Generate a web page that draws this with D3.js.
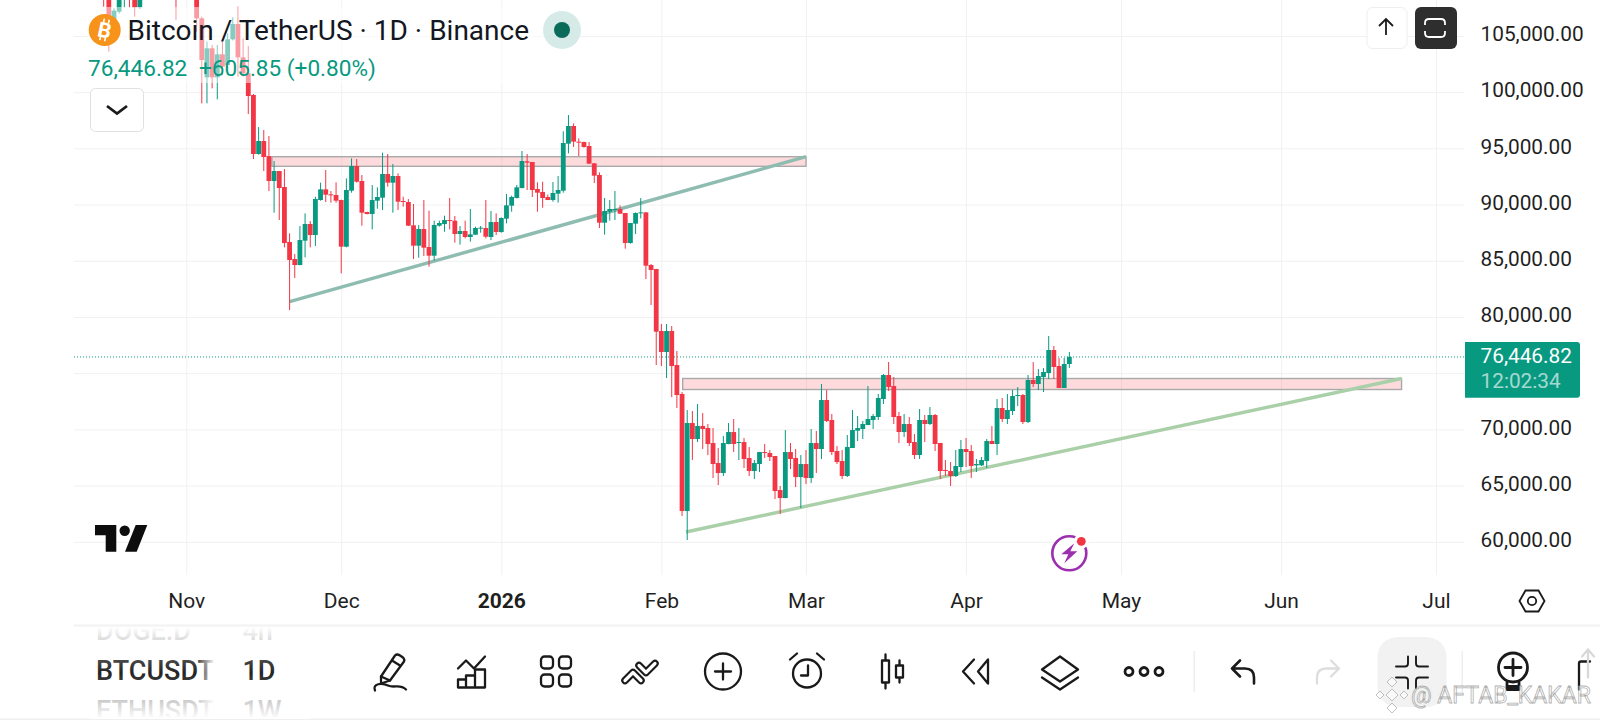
<!DOCTYPE html>
<html>
<head>
<meta charset="utf-8">
<script src="https://cdn.jsdelivr.net/npm/d3@7"></script>
<style>
  html, body { margin: 0; padding: 0; background: #fff; overflow: hidden; }
  text { font-family: Roboto, "Noto Sans", sans-serif; }
</style>
</head>
<body>
<div id="my_chart"></div>
<script>
// BTC/USDT daily candles. One line per month, starting 16 Oct 2025.
const firstDay = "2025-10-16";
const opens = [
  111200,108600,106423,107165,108700,110600,108400,107550,110000,111000,111600,114500,114100,112900,110000,108400,
  109600,110100,110500,106572,101322,103902,101322,103368,102419,104703,106067,103102,101678,99750,94500,95657,94322,92098,92988,91564,86670,85157,84624,86789,88272,87293,90407,91356,90912,90853,
  90408,86256,91238,93433,92099,89340,89162,90349,90616,92721,91950,92544,90319,90230,88154,86345,87828,86226,85455,88124,88272,88628,88569,87383,87650,87116,87323,87887,87917,87116,88450,
  87561,88747,89904,90586,91476,93849,93789,91387,91120,90675,90408,90972,91238,95421,96993,95599,95570,95213,93671,92633,88391,89370,89548,89607,89251,86582,88302,89251,89310,84625,84269,
  78753,76884,78753,75727,73147,62736,70567,69143,70300,70122,68787,67007,66118,68698,69766,68817,68876,67452,66295,66918,67986,67897,67630,64605,63893,67986,67452,65761,
  66918,65673,68787,68253,72613,70833,68075,67185,65852,68344,69886,70034,70390,70835,71102,72704,74839,73860,71191,69767,70479,68877,67720,70835,70479,71280,68789,66386,66297,65852,66653,
  68255,68077,66801,66801,67187,68966,68700,71903,70924,71636,72971,73060,70657,74394,74038,74661,75017,77064,75640,73682,75818
];
const highs = [
  111900,109000,107460,109400,111700,113000,109000,111000,111900,111800,114900,116400,116000,113600,111500,111100,
  110500,111200,110700,106720,104495,104199,104199,104495,105237,106661,107610,104792,104110,99839,96903,96636,96102,93877,93000,93166,87441,85602,88094,89221,88539,90704,91950,93077,91209,91980,
  90440,92336,94116,94056,92633,89370,91743,91535,94620,94501,93611,92781,90705,90497,90052,88184,90408,89459,88569,88569,89014,90586,88984,88095,88569,89607,88035,88095,90408,89429,89222,
  88866,90942,90794,91743,94768,94501,93800,91980,92039,90883,92010,92544,96518,97971,97230,95895,95600,95569,93700,92870,90586,90408,91209,89933,89260,88370,89310,90586,89320,84714,84280,
  79376,79376,79198,76973,73325,71723,71634,72257,71456,70478,70122,68342,69410,70567,70923,70122,69232,68431,67274,68000,68698,68164,67640,64961,69944,68787,68253,67719,
  68164,70033,69855,74037,73503,71367,68520,68164,69500,71725,71191,70746,73860,71369,73148,74928,75996,74661,71547,71369,71102,69589,71814,71280,71992,71369,68800,67276,67098,68166,69055,
  69233,68611,67365,67543,69145,70301,72704,72793,73148,73505,73771,73148,74839,75996,75373,75462,78309,77420,76352,76352,76886
];
const lows = [
  107610,103606,106186,107000,107550,107550,106720,107400,109700,110700,111200,113800,111900,109300,106423,108300,
  109400,109800,105385,99008,99008,100343,99364,101530,101530,104600,101381,101400,98059,94055,94450,92988,91208,89280,88627,86196,80619,83467,84600,85306,86196,86314,90348,90229,90171,90171,
  83883,86200,91061,91950,88124,89130,87798,89637,89518,91594,89281,89518,89815,88095,85158,85277,85425,84476,85010,88035,87590,87798,86612,86434,86997,86700,87294,87501,86997,86849,87294,
  87500,88332,89370,90556,91440,91298,90675,89370,89726,90400,90260,90171,91061,94560,95124,94323,95065,93620,91921,87917,87323,88569,88628,89160,86078,86523,87383,88777,83380,81066,75727,
  75638,74570,72880,71901,62291,60156,67274,68876,68253,67719,65673,65050,65851,68680,67986,67274,66562,65851,65584,66206,67452,67185,63804,62469,63880,66473,64872,63003,
  65139,65228,66118,67363,70655,67719,66918,65584,65763,68340,68966,69145,70380,70034,70835,72259,73415,70479,68789,69322,68522,67365,67365,68877,70390,68077,65585,65852,64963,65763,66208,
  66653,65674,66208,66742,66564,68690,67720,70657,70479,71280,72081,70479,70568,73771,73505,73326,74483,74483,73680,73680,75462
];
const closes = [
  108400,106870,107254,108600,110500,108400,107550,110000,111000,111600,114500,114100,112900,110000,108300,109600,
  110100,110500,106572,102864,103902,101322,103368,102271,104703,106067,103102,101678,99661,94500,95657,94233,92098,92988,91475,86581,85068,84624,86848,88272,87293,90496,91356,90882,90853,90349,
  86256,91298,93433,92039,89281,89162,90408,90675,92721,91950,92544,90260,90230,88124,86345,87828,86167,85455,88184,88361,88628,88569,87383,87650,87116,87353,87917,87947,87145,88450,87561,
  88806,89933,90675,91535,93878,93730,91298,91061,90586,90408,91031,91298,95480,96993,95599,95539,95124,93641,92573,88391,89429,89607,89607,89192,86582,88361,89251,89310,84565,84180,78693,
  76884,78753,75638,73058,62736,70567,69143,70300,70033,68698,66918,66118,68787,69766,68698,68876,67363,66295,67007,67986,67897,67541,64516,63893,67986,67363,65761,66918,
  65673,68787,68253,72613,70744,67986,67096,65851,68433,69945,70123,70479,70924,71191,72793,74839,73771,71102,69767,70479,68789,67720,70835,70479,71280,68700,66297,66297,65852,66742,68255,
  67988,66742,66920,67276,68966,68700,71903,70924,71725,72971,73060,70657,74394,74038,74750,75106,77064,75551,73682,75818,76446.82
];

const priceTicks = [60000, 65000, 70000, 75000, 80000, 85000, 90000, 95000, 100000, 105000];
// 75,000 sits behind the last price tag, so it gets a grid line but no label
const priceLabelTicks = [60000, 65000, 70000, 80000, 85000, 90000, 95000, 100000, 105000];
const monthTicks = ["2025-11-01", "2025-12-01", "2026-01-01", "2026-02-01", "2026-03-01", "2026-04-01", "2026-05-01", "2026-06-01", "2026-07-01"];
const monthLabels = ["Nov", "Dec", "2026", "Feb", "Mar", "Apr", "May", "Jun", "Jul"];

// drawings the trader put on the chart
const zoneStarts = ["2025-11-17T14:00Z", "2026-02-05T03:00Z"];
const zoneEnds = ["2026-03-01T00:00Z", "2026-06-24T08:00Z"];
const zoneTops = [94262, 74528];
const zoneBottoms = [93407, 73549];
const trendStarts = ["2025-11-21T00:00Z", "2026-02-05T18:00Z"];
const trendEnds = ["2026-03-01T00:00Z", "2026-06-24T08:00Z"];
const trendFrom = [81361, 60871];
const trendTo = [94262, 74528];
const trendColors = ["#8fbcb1", "#a9d0a8"];

const lastPrice = 76446.82;
const red = "#f23645", green = "#089981";

const width = 1600, height = 720;
const plot = {left: 74, right: 1464, top: 0, bottom: 575};

const xScale = d3.scaleUtc()
    .domain([new Date("2025-11-01"), new Date("2026-07-01")])
    .range([186.3, 1436]);
const yScale = d3.scaleLinear()
    .domain([60000, 105000])
    .range([541.8, 36]);

const svg = d3.select("#my_chart")
    .append("svg")
    .attr("width", width)
    .attr("height", height)
    .style("display", "block");

const defs = svg.append("defs");
defs.append("clipPath").attr("id", "plot-clip")
    .append("rect")
    .attr("x", plot.left).attr("y", plot.top)
    .attr("width", plot.right - plot.left)
    .attr("height", plot.bottom - plot.top);
const fade = defs.append("linearGradient").attr("id", "list-fade");
fade.append("stop").attr("offset", "0%").attr("stop-color", "#fff").attr("stop-opacity", 0);
fade.append("stop").attr("offset", "100%").attr("stop-color", "#fff").attr("stop-opacity", 1);
const fadeV = defs.append("linearGradient").attr("id", "list-fade-v")
    .attr("x1", 0).attr("y1", 0).attr("x2", 0).attr("y2", 1);
[[0, 1], [0.3, 0.25], [0.5, 0], [0.7, 0.25], [1, 1]].forEach(s => {
    fadeV.append("stop").attr("offset", s[0]).attr("stop-color", "#fff").attr("stop-opacity", s[1]);
});

// grid, built from the axes
const gridY = svg.append("g")
    .attr("transform", `translate(${plot.left},0)`)
    .call(d3.axisLeft(yScale).tickValues(priceTicks).tickSize(-(plot.right - plot.left)).tickFormat(""));
gridY.select(".domain").remove();
gridY.selectAll("line").attr("stroke", "#f1f1f1");

const gridX = svg.append("g")
    .attr("transform", `translate(0,${plot.bottom})`)
    .call(d3.axisBottom(xScale).tickValues(monthTicks.map(d => new Date(d))).tickSize(-plot.bottom).tickFormat(""));
gridX.select(".domain").remove();
gridX.selectAll("line").attr("stroke", "#f1f1f1");

const chart = svg.append("g").attr("clip-path", "url(#plot-clip)");

// last price line
chart.append("line")
    .attr("x1", plot.left).attr("x2", plot.right)
    .attr("y1", yScale(lastPrice)).attr("y2", yScale(lastPrice))
    .attr("stroke", green)
    .attr("stroke-dasharray", "1,2");

// resistance zones
zoneStarts.forEach((d, i) => {
    chart.append("rect")
        .attr("x", xScale(new Date(d)))
        .attr("y", yScale(zoneTops[i]))
        .attr("width", xScale(new Date(zoneEnds[i])) - xScale(new Date(d)))
        .attr("height", yScale(zoneBottoms[i]) - yScale(zoneTops[i]))
        .attr("fill", "rgba(242,54,69,0.18)")
        .attr("stroke", "#a9a9a9")
        .attr("stroke-width", 1.4);
});

// trend lines
trendStarts.forEach((d, i) => {
    chart.append("line")
        .attr("x1", xScale(new Date(d)))
        .attr("y1", yScale(trendFrom[i]))
        .attr("x2", xScale(new Date(trendEnds[i])))
        .attr("y2", yScale(trendTo[i]))
        .attr("stroke", trendColors[i])
        .attr("stroke-width", 3.4);
});

// candles
const candles = opens.map((o, i) => ({
    date: d3.utcDay.offset(new Date(firstDay), i),
    open: o, high: highs[i], low: lows[i], close: closes[i]
}));
const candleWidth = 4.8;
const candle = chart.append("g").selectAll("g").data(candles).join("g")
    .attr("fill", d => d.close >= d.open ? green : red)
    .attr("stroke", "none");
candle.append("rect")
    .attr("x", d => xScale(d.date) - 0.5)
    .attr("y", d => yScale(d.high))
    .attr("width", 1)
    .attr("height", d => yScale(d.low) - yScale(d.high));
candle.append("rect")
    .attr("x", d => xScale(d.date) - candleWidth / 2)
    .attr("y", d => yScale(Math.max(d.open, d.close)))
    .attr("width", candleWidth)
    .attr("height", d => Math.max(1, Math.abs(yScale(d.open) - yScale(d.close))));

// legend backing that washes out the candles behind the title
svg.append("rect")
    .attr("x", 88).attr("y", 7).attr("width", 470).attr("height", 76)
    .attr("fill", "#fff").attr("opacity", 0.5);

// title block
svg.append("circle").attr("cx", 104.7).attr("cy", 30).attr("r", 16).attr("fill", "#f7931a");
svg.append("text").attr("x", 104.7).attr("y", 37.5)
    .attr("text-anchor", "middle")
    .attr("transform", "rotate(12 104.7 30)")
    .attr("font-size", 21).attr("font-weight", 700).attr("fill", "#fff")
    .text("B");
svg.append("path").attr("d", "M102,19v4M107,19v4M102,37v4M107,37v4")
    .attr("transform", "rotate(12 104.7 30)")
    .attr("stroke", "#fff").attr("stroke-width", 1.6);

svg.append("text").attr("x", 127.5).attr("y", 39.5)
    .attr("font-size", 28).attr("fill", "#131722")
    .text("Bitcoin / TetherUS · 1D · Binance");
svg.append("text").attr("x", 88).attr("y", 75.5)
    .attr("font-size", 22.6).attr("fill", green)
    .text("76,446.82");
svg.append("text").attr("x", 199).attr("y", 75.5)
    .attr("font-size", 22.6).attr("fill", green)
    .text("+605.85 (+0.80%)");

svg.append("circle").attr("cx", 562).attr("cy", 30).attr("r", 19).attr("fill", "#d6ebe8");
svg.append("circle").attr("cx", 562).attr("cy", 30).attr("r", 8).attr("fill", "#0b6b5a");

svg.append("rect").attr("x", 90.5).attr("y", 88.5).attr("width", 53).attr("height", 43).attr("rx", 5)
    .attr("fill", "#fff").attr("stroke", "#e0e0e0");
svg.append("path").attr("d", "M107,106l10,7.5l10,-7.5")
    .attr("fill", "none").attr("stroke", "#1a1a1a").attr("stroke-width", 2.8);

// top right buttons
svg.append("rect").attr("x", 1367).attr("y", 7.5).attr("width", 40).attr("height", 41).attr("rx", 6)
    .attr("fill", "#fff").attr("stroke", "#eeeeee");
svg.append("path").attr("d", "M1386,35V20M1379,26l7,-7l7,7")
    .attr("fill", "none").attr("stroke", "#1a1a1a").attr("stroke-width", 1.8);
svg.append("rect").attr("x", 1415).attr("y", 7).attr("width", 42).attr("height", 42).attr("rx", 6)
    .attr("fill", "#2e2e2e");
svg.append("path").attr("d", "M1425,25v-2q0,-4 4,-4h12q4,0 4,4v2M1425,31v2q0,4 4,4h12q4,0 4,-4v-2")
    .attr("fill", "none").attr("stroke", "#fff").attr("stroke-width", 1.8);

// price axis
const yAxis = svg.append("g")
    .attr("transform", "translate(1480.5,-2)")
    .call(d3.axisRight(yScale).tickValues(priceLabelTicks).tickSize(0).tickPadding(0).tickFormat(d3.format(",.2f")));
yAxis.select(".domain").remove();
yAxis.selectAll("text")
    .attr("font-size", 20.8).attr("font-family", "Roboto").attr("fill", "#1f1f1f");

// last price tag
svg.append("path")
    .attr("d", "M1465,342H1577q3,0 3,3V394.7q0,3 -3,3H1465Z")
    .attr("fill", green);
svg.append("text").attr("x", 1480.5).attr("y", 363)
    .attr("font-size", 20.8).attr("fill", "#fff")
    .text(d3.format(",.2f")(lastPrice));
svg.append("text").attr("x", 1480.5).attr("y", 388)
    .attr("font-size", 20.8).attr("fill", "#fff").attr("fill-opacity", 0.65)
    .text("12:02:34");

// time axis
const xAxis = svg.append("g")
    .attr("transform", "translate(0,593)")
    .call(d3.axisBottom(xScale)
        .tickValues(monthTicks.map(d => new Date(d)))
        .tickSize(0).tickPadding(0)
        .tickFormat((d, i) => monthLabels[i]));
xAxis.select(".domain").remove();
xAxis.selectAll("text")
    .attr("font-size", 21).attr("font-family", "Roboto").attr("fill", "#1f1f1f")
    .attr("font-weight", (d, i) => monthLabels[i] === "2026" ? 700 : 400);

// settings hexagon
svg.append("path").attr("d", "M1519.5,601l6,-10.5h13l6,10.5l-6,10.5h-13Z")
    .attr("fill", "none").attr("stroke", "#1a1a1a").attr("stroke-width", 1.8);
svg.append("circle").attr("cx", 1532).attr("cy", 601).attr("r", 4.2)
    .attr("fill", "none").attr("stroke", "#1a1a1a").attr("stroke-width", 1.8);

// tradingview mark
svg.append("path").attr("d", "M95,525H116.3V551.7H105.7V535.3H95Z").attr("fill", "#0d0d0d");
svg.append("circle").attr("cx", 124.7).attr("cy", 530.7).attr("r", 5.2).attr("fill", "#0d0d0d");
svg.append("path").attr("d", "M135.7,525H147.3L136.7,551.7H125Z").attr("fill", "#0d0d0d");

// news flash badge
const flash = svg.append("g").attr("transform", "translate(1069.3,553.3)");
flash.append("circle").attr("r", 17).attr("fill", "#fff").attr("stroke", "#9c2fb0").attr("stroke-width", 2.6);
flash.append("path").attr("d", "M5,-10L-8,1L-1,1L-5,10L8,-2L1,-2Z").attr("fill", "#9c2fb0");
flash.append("circle").attr("cx", 12).attr("cy", -12).attr("r", 7.5).attr("fill", "#fff");
flash.append("circle").attr("cx", 12).attr("cy", -12).attr("r", 4.4).attr("fill", red);

// bottom bar
svg.append("rect").attr("x", 74).attr("y", 624.5).attr("width", 1526).attr("height", 2).attr("fill", "#f2f2f2");
svg.append("rect").attr("x", 0).attr("y", 718.5).attr("width", 1600).attr("height", 1.5).attr("fill", "#efefef");

// symbol picker wheel
const wheel = [["DOGE.D", "4h", 640, "#9a9a9a"], ["BTCUSDT", "1D", 680, "#222"], ["ETHUSDT", "1W", 720, "#9a9a9a"]];
defs.append("clipPath").attr("id", "wheel-clip").append("rect")
    .attr("x", 90).attr("y", 627).attr("width", 220).attr("height", 90);
const wheelG = svg.append("g").attr("clip-path", "url(#wheel-clip)");
wheel.forEach(w => {
    wheelG.append("text").attr("x", 96).attr("y", w[2])
        .attr("font-size", 27).attr("font-weight", 500).attr("fill", w[3]).text(w[0]);
    wheelG.append("text").attr("x", 242.5).attr("y", w[2])
        .attr("font-size", 27).attr("font-weight", 500).attr("fill", w[3]).text(w[1]);
});
svg.append("rect").attr("x", 90).attr("y", 627).attr("width", 220).attr("height", 92).attr("fill", "url(#list-fade-v)");
svg.append("rect").attr("x", 198).attr("y", 627).attr("width", 17).attr("height", 92).attr("fill", "url(#list-fade)");
svg.append("rect").attr("x", 215).attr("y", 627).attr("width", 22).attr("height", 92).attr("fill", "#fff");

// toolbar icons
const iconRow = 671.5;
function icon(cx, draw, color) {
    const g = svg.append("g")
        .attr("transform", `translate(${cx},${iconRow})`)
        .attr("fill", "none")
        .attr("stroke", color || "#1a1a1a")
        .attr("stroke-width", 2.3)
        .attr("stroke-linejoin", "round")
        .attr("stroke-linecap", "round");
    draw(g);
    return g;
}
icon(390, g => {
    g.append("path").attr("d", "M-9,5L5,-16Q7,-18 10,-16L13,-14Q15,-12 14,-10L0,9L-9,12Z");
    g.append("path").attr("d", "M2,-11L10,-6M-9,5L0,9");
    g.append("path").attr("d", "M-15,19C-18,12 -8,11 -2,14C4,17 10,12 16,18");
});
icon(472, g => {
    g.append("path").attr("d", "M-14,16V8H-6V16ZM-6,16V4H3V16ZM3,16V-2H13V16Z");
    g.append("path").attr("d", "M-14,-3L-6,-11L2,-3L13,-15");
});
icon(556, g => {
    [[-15, -15], [3, -15], [-15, 3], [3, 3]].forEach(p => {
        g.append("rect").attr("x", p[0]).attr("y", p[1]).attr("width", 12).attr("height", 12).attr("rx", 3.5);
    });
});
icon(640, g => {
    g.append("path").attr("d", "M-15,9L-7,1L1,9").attr("stroke-width", 7.5);
    g.append("path").attr("d", "M-1,-6L6,1L15,-8").attr("stroke-width", 7.5);
    g.append("path").attr("d", "M-15,9L-7,1L1,9").attr("stroke", "#fff").attr("stroke-width", 3.2);
    g.append("path").attr("d", "M-1,-6L6,1L15,-8").attr("stroke", "#fff").attr("stroke-width", 3.2);
});
icon(723, g => {
    g.append("circle").attr("r", 18);
    g.append("path").attr("d", "M-8,0H8M0,-8V8");
});
icon(807, g => {
    g.append("circle").attr("cy", 2).attr("r", 14);
    g.append("path").attr("d", "M1,-6V4H-6");
    g.append("path").attr("d", "M-17,-12L-10,-18M17,-12L10,-18");
});
icon(893, g => {
    g.append("path").attr("d", "M-7.5,-17V17M6.5,-11V11");
    g.append("rect").attr("x", -11).attr("y", -11).attr("width", 7).attr("height", 22).attr("fill", "#fff");
    g.append("rect").attr("x", 3).attr("y", -6).attr("width", 7).attr("height", 12).attr("fill", "#fff");
});
icon(976, g => {
    g.append("path").attr("d", "M-2,-12L-13,0L-2,12");
    g.append("path").attr("d", "M12,-12L2,0L12,12Z");
});
icon(1060, g => {
    g.append("path").attr("d", "M0,-15L18,-2L0,10L-18,-2Z");
    g.append("path").attr("d", "M-18,6L0,18L18,6");
});
icon(1144, g => {
    [-15, 0, 15].forEach(x => g.append("circle").attr("cx", x).attr("r", 4).attr("stroke-width", 2.8));
});
svg.append("rect").attr("x", 1193.5).attr("y", 651).attr("width", 1.5).attr("height", 41).attr("fill", "#eeeeee");
icon(1243, g => {
    g.append("path").attr("d", "M-3,-11L-11,-3L-3,5M-11,-3H2Q11,-3 11,6V12").attr("stroke-width", 2.6);
});
icon(1328, g => {
    g.append("path").attr("d", "M3,-11L11,-3L3,5M11,-3H-2Q-11,-3 -11,6V12");
}, "#dddddd");
svg.append("rect").attr("x", 1377.5).attr("y", 637).attr("width", 69).attr("height", 70).attr("rx", 20).attr("fill", "#f2f2f2");
icon(1412, g => {
    g.append("path").attr("d", "M-16,-5H-7Q-4,-5 -4,-8V-15M16,-5H7Q4,-5 4,-8V-15M-16,6H-7Q-4,6 -4,9V17M16,6H7Q4,6 4,9V17")
        .attr("stroke-width", 1.9);
});
svg.append("rect").attr("x", 1461.5).attr("y", 651).attr("width", 1.5).attr("height", 41).attr("fill", "#eeeeee");
icon(1513, g => {
    g.append("circle").attr("cy", -4).attr("r", 14.5).attr("stroke-width", 2.8);
    g.append("path").attr("d", "M-8,-4H8M0,-12V4").attr("stroke-width", 2.8);
    g.append("path").attr("d", "M-6,11V18H6V11M-6,15H6").attr("stroke-width", 2.8);
});
icon(1586, g => {
    g.append("path").attr("d", "M-7,18V-8Q-7,-10 -5,-10H4");
    g.append("path").attr("d", "M2,6V-22M-4,-15L2,-22L8,-15").attr("stroke", "#d8d8d8");
});

// watermark
const mark = svg.append("g").attr("transform", "translate(1392,695)")
    .attr("fill", "rgba(255,255,255,0.55)").attr("stroke", "rgba(150,150,150,0.65)").attr("stroke-width", 0.9);
[[0, 0, 6], [0, -13, 5], [0, 13, 5], [-12, 0, 4], [12, 0, 4]].forEach(p => {
    mark.append("path").attr("d", `M${p[0]},${p[1] - p[2]}L${p[0] + p[2]},${p[1]}L${p[0]},${p[1] + p[2]}L${p[0] - p[2]},${p[1]}Z`);
});
svg.append("text").attr("x", 1411).attr("y", 703)
    .attr("font-size", 23)
    .attr("fill", "rgba(255,255,255,0.55)")
    .attr("stroke", "rgba(140,140,140,0.7)")
    .attr("stroke-width", 0.8)
    .text("@ AFTAB_KAKAR");
</script>
</body>
</html>
